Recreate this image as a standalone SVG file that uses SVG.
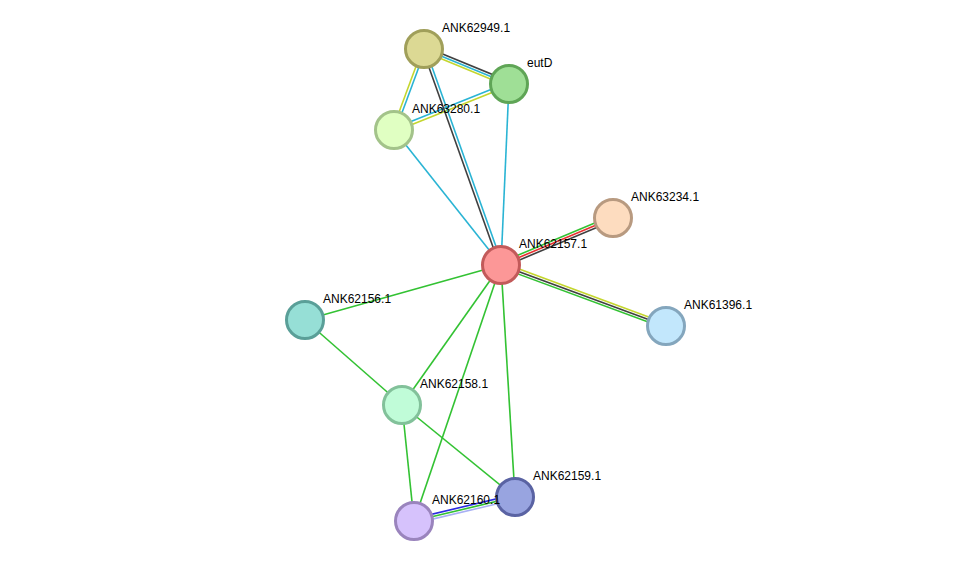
<svg xmlns="http://www.w3.org/2000/svg" width="975" height="567" viewBox="0 0 975 567">
<style>
line{stroke-width:1.6;fill:none}
.g{stroke:#33c233}.c{stroke:#2ab4d4}.k{stroke:#404040}.y{stroke:#c4d62e}.r{stroke:#e83030}.b{stroke:#2a2ae0}.lb{stroke:#a8b0f4}
circle{stroke-width:3}
text{font-family:"Liberation Sans",Arial,sans-serif;font-size:12px;fill:#000}
</style>
<rect width="975" height="567" fill="#fff"/>
<g id="connectors">
<line class="k" x1="424" y1="49" x2="509" y2="84" transform="translate(0.95,-2.3)"/>
<line class="c" x1="424" y1="49" x2="509" y2="84"/>
<line class="y" x1="424" y1="49" x2="509" y2="84" transform="translate(-0.95,2.3)"/>
<line class="y" x1="424" y1="49" x2="394" y2="130" transform="translate(-1.4,-0.5)"/>
<line class="c" x1="424" y1="49" x2="394" y2="130" transform="translate(1.4,0.5)"/>
<line class="c" x1="394" y1="130" x2="509" y2="84" transform="translate(-0.55,-1.4)"/>
<line class="y" x1="394" y1="130" x2="509" y2="84" transform="translate(0.55,1.4)"/>
<line class="k" x1="424" y1="49" x2="501" y2="265" transform="translate(-1.4,0.5)"/>
<line class="c" x1="424" y1="49" x2="501" y2="265" transform="translate(1.4,-0.5)"/>
<line class="c" x1="509" y1="84" x2="501" y2="265"/>
<line class="c" x1="394" y1="130" x2="501" y2="265"/>
<line class="g" x1="501" y1="265" x2="613" y2="218" transform="translate(-0.97,-2.3)"/>
<line class="r" x1="501" y1="265" x2="613" y2="218"/>
<line class="k" x1="501" y1="265" x2="613" y2="218" transform="translate(0.97,2.3)"/>
<line class="y" x1="501" y1="265" x2="666" y2="326" transform="translate(0.87,-2.35)"/>
<line class="k" x1="501" y1="265" x2="666" y2="326"/>
<line class="g" x1="501" y1="265" x2="666" y2="326" transform="translate(-0.87,2.35)"/>
<line class="b" x1="414" y1="521" x2="515" y2="497" transform="translate(-0.58,-2.4)"/>
<line class="g" x1="414" y1="521" x2="515" y2="497"/>
<line class="lb" x1="414" y1="521" x2="515" y2="497" transform="translate(0.58,2.4)"/>
<line class="g" x1="501" y1="265" x2="305" y2="320"/>
<line class="g" x1="501" y1="265" x2="402" y2="405"/>
<line class="g" x1="501" y1="265" x2="414" y2="521"/>
<line class="g" x1="501" y1="265" x2="515" y2="497"/>
<line class="g" x1="305" y1="320" x2="402" y2="405"/>
<line class="g" x1="402" y1="405" x2="414" y2="521"/>
<line class="g" x1="402" y1="405" x2="515" y2="497"/>
</g>
<g id="ANK62949.1"><circle cx="424" cy="49" r="18.5" fill="#dcd994" stroke="#a09f5a"/><text x="442" y="32">ANK62949.1</text></g>
<g id="eutD"><circle cx="509" cy="84" r="18.5" fill="#9fdf96" stroke="#5fa556"/><text x="527" y="67">eutD</text></g>
<g id="ANK63280.1"><circle cx="394" cy="130" r="18.5" fill="#e0ffc2" stroke="#a3c38a"/><text x="412" y="113">ANK63280.1</text></g>
<g id="ANK63234.1"><circle cx="613" cy="218" r="18.5" fill="#fddcbf" stroke="#b89a80"/><text x="631" y="201">ANK63234.1</text></g>
<g id="ANK62157.1"><circle cx="501" cy="265" r="18.5" fill="#fc9797" stroke="#c25a5a"/><text x="519" y="248">ANK62157.1</text></g>
<g id="ANK62156.1"><circle cx="305" cy="320" r="18.5" fill="#96dfd6" stroke="#5a9f98"/><text x="323" y="303">ANK62156.1</text></g>
<g id="ANK61396.1"><circle cx="666" cy="326" r="18.5" fill="#c2e7fc" stroke="#84a6bd"/><text x="684" y="309">ANK61396.1</text></g>
<g id="ANK62158.1"><circle cx="402" cy="405" r="18.5" fill="#c0fcd8" stroke="#82c19a"/><text x="420" y="388">ANK62158.1</text></g>
<g id="ANK62159.1"><circle cx="515" cy="497" r="18.5" fill="#98a4e0" stroke="#5a63a3"/><text x="533" y="480">ANK62159.1</text></g>
<g id="ANK62160.1"><circle cx="414" cy="521" r="18.5" fill="#d6c2fc" stroke="#9a84bd"/><text x="432" y="504">ANK62160.1</text></g>
</svg>
